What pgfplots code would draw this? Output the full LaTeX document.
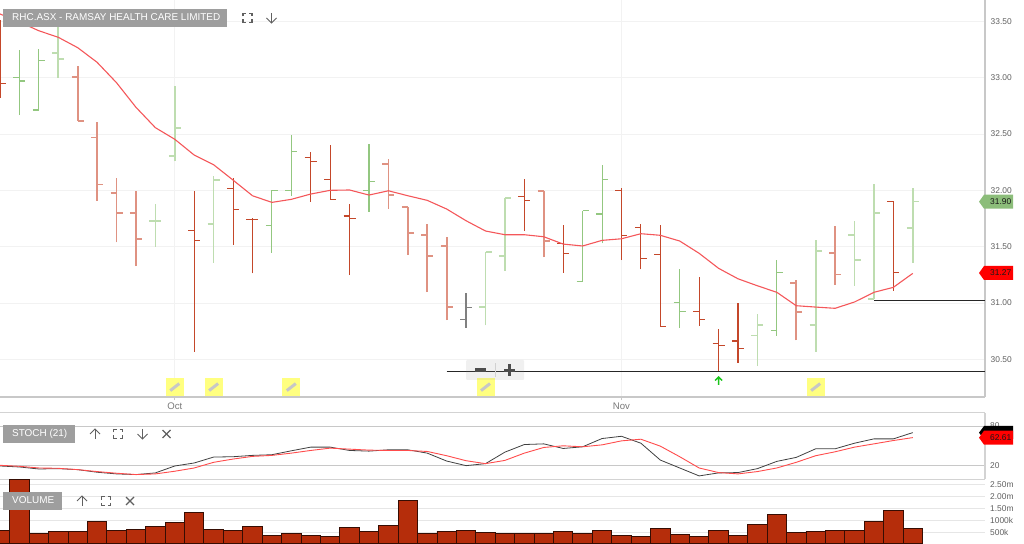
\documentclass[border=0pt]{standalone}
\usepackage{fontspec}
\setmainfont{Liberation Sans}
\usepackage{pgfplots}
\usepackage{pgfplotstable}
\pgfplotsset{compat=1.18}
\definecolor{rd}{HTML}{C4472A}
\definecolor{rl}{HTML}{DF9282}
\definecolor{gd}{HTML}{93C780}
\definecolor{gl}{HTML}{BEDDB0}
\definecolor{bk}{HTML}{808080}
\definecolor{lbl}{HTML}{9E9E9E}
\definecolor{txt}{HTML}{606060}
\definecolor{bar}{HTML}{B52D0B}
\definecolor{ma}{HTML}{F4575A}
\definecolor{ax}{HTML}{C8C8C8}
\definecolor{grd}{HTML}{F2F2F2}
\definecolor{yel}{HTML}{FFFF80}

\pgfplotstableread{
i o h l c
0 33.4 33.511 32.817 32.952
10 31.641 31.994 30.568 31.553
12 32.012 32.106 31.515 31.831
13 31.743 31.751 31.263 31.743
16 32.293 32.343 31.899 32.26
17 32.1 32.402 31.92 31.92
18 31.772 31.878 31.248 31.751
27 31.941 32.103 31.639 31.911
29 31.53 31.689 31.269 31.441
32 32.0 32.018 31.381 31.601
33 31.668 31.698 31.299 31.393
34 31.432 31.689 30.79 30.79
36 30.923 31.228 30.798 30.852
37 30.642 30.772 30.39 30.621
38 30.663 31.002 30.47 30.6
46 31.902 31.902 31.109 31.269
}\redDark
\pgfplotstableread{
i o h l c
4 33.003 33.103 32.618 32.618
5 32.47 32.609 31.908 32.053
6 31.979 32.106 31.539 31.801
7 31.801 31.994 31.328 31.568
20 32.231 32.275 31.837 31.958
21 31.849 31.849 31.428 31.621
22 31.601 31.701 31.097 31.42
23 31.503 31.583 30.849 30.962
28 31.994 31.994 31.408 31.55
41 31.18 31.201 30.669 30.923
43 31.441 31.683 31.16 31.254
}\redLight
\pgfplotstableread{
i o h l c
1 33.003 33.245 32.668 32.97
2 32.713 33.251 32.713 33.154
14 31.692 32.0 31.446 32.0
15 32.0 32.491 31.952 32.343
19 32.0 32.411 31.81 32.08
30 31.189 31.819 31.189 31.819
31 31.79 32.227 31.53 32.1
35 31.002 31.304 30.781 30.923
40 30.754 31.384 30.71 31.269
}\greenDark
\pgfplotstableread{
i o h l c
3 33.221 33.458 32.997 33.163
8 31.73 31.876 31.5 31.73
9 32.304 32.926 32.26 32.55
11 31.701 32.13 31.357 32.091
25 30.962 31.45 30.802 31.45
26 31.42 31.932 31.286 31.932
39 30.713 30.902 30.441 30.802
42 30.802 31.556 30.568 31.464
44 31.601 31.73 31.153 31.384
45 31.033 32.056 31.033 31.801
47 31.663 32.018 31.357 31.902
}\greenLight
\pgfplotstableread{
i o h l c
24 30.852 31.091 30.781 30.962
}\grayBars
\pgfplotstableread{
i ma k d v
0 33.565 20 21 583
1 33.494 18.5 19.5 2720
2 33.416 15.5 17 444
3 33.358 16 16.5 528
4 33.266 14.5 14.5 528
5 33.136 10.6 11.6 958
6 32.955 8.1 9.1 583
7 32.737 7.1 7.1 611
8 32.556 9.6 8.1 722
9 32.453 20 12.1 903
10 32.313 24.5 17 1320
11 32.227 33.4 25.5 611
12 32.091 33.9 30.4 556
13 31.952 35.9 34.4 722
14 31.893 36.9 35.9 375
15 31.92 42.8 39.3 444
16 31.967 48.3 43.3 375
17 32.0 48.3 46.8 333
18 32.003 43.3 45.3 694
19 31.958 42.3 43.8 528
20 31.996 44.3 43.3 792
21 31.952 44.3 43.3 1820
22 31.911 39.3 41.8 444
23 31.834 27.4 35.4 528
24 31.73 20.5 27.9 556
25 31.639 23.5 23.5 500
26 31.606 40.8 28.4 444
27 31.606 52.2 39.3 444
28 31.588 53.2 47.8 444
29 31.523 46.3 50.3 528
30 31.506 48.8 48.8 444
31 31.556 61.2 51.7 583
32 31.57 64.6 57.7 375
33 31.615 54.2 60.2 306
34 31.601 28.9 49.8 653
35 31.55 17 33.9 403
36 31.441 5.1 17 306
37 31.308 9.6 10.1 583
38 31.215 10.1 8.1 375
39 31.153 16 11.6 820
40 31.095 26.9 17 1236
41 30.976 32.9 25.5 486
42 30.964 45.8 35.4 528
43 30.953 45.8 41.3 556
44 31.009 54.2 48.3 583
45 31.095 60.7 53.2 958
46 31.139 60.7 58.2 1417
47 31.263 70.1 62.61 653
}\series

\pgfdeclareplotmark{pencil}{%
  \pgfsetlinewidth{3pt}\pgfsetbuttcap
  \pgfpathmoveto{\pgfpoint{-4.5pt}{-3.5pt}}\pgfpathlineto{\pgfpoint{4.5pt}{3.5pt}}\pgfusepathqstroke}
\pgfdeclareplotmark{uparrow}{%
  \pgfsetlinewidth{1.4pt}
  \pgfpathmoveto{\pgfpoint{0pt}{-4pt}}\pgfpathlineto{\pgfpoint{0pt}{4pt}}
  \pgfpathmoveto{\pgfpoint{-3.5pt}{0.5pt}}\pgfpathlineto{\pgfpoint{0pt}{4pt}}\pgfpathlineto{\pgfpoint{3.5pt}{0.5pt}}\pgfusepathqstroke}

\newcommand{\ohlc}[3]{%
  \pgfplotstablegetrowsof{#1}%
  \pgfmathtruncatemacro{\lastrow}{\pgfplotsretval-1}%
  \pgfplotsforeachungrouped \r in {0,...,\lastrow}{%
    \pgfplotstablegetelem{\r}{i}\of{#1}\let\vI\pgfplotsretval
    \pgfplotstablegetelem{\r}{o}\of{#1}\let\vO\pgfplotsretval
    \pgfplotstablegetelem{\r}{h}\of{#1}\let\vH\pgfplotsretval
    \pgfplotstablegetelem{\r}{l}\of{#1}\let\vL\pgfplotsretval
    \pgfplotstablegetelem{\r}{c}\of{#1}\let\vC\pgfplotsretval
    \pgfmathsetmacro{\xL}{\vI-0.31}%
    \pgfmathsetmacro{\xR}{\vI+0.31}%
    \edef\doplot{%
      \noexpand\addplot[#2, line width=#3, no marks, forget plot] coordinates {(\vI,\vL)(\vI,\vH)};
      \noexpand\addplot[#2, line width=#3, no marks, forget plot] coordinates {(\xL,\vO)(\vI,\vO)};
      \noexpand\addplot[#2, line width=#3, no marks, forget plot] coordinates {(\vI,\vC)(\xR,\vC)};
    }\doplot
  }%
}
\newcommand{\fsicon}[2]{\begin{scope}[shift={(#1,#2)}, draw=txt, line width=1.1pt]
  \draw (-4.5,-1.5)--(-4.5,-4.5)--(-1.5,-4.5);
  \draw (1.5,-4.5)--(4.5,-4.5)--(4.5,-1.5);
  \draw (4.5,1.5)--(4.5,4.5)--(1.5,4.5);
  \draw (-1.5,4.5)--(-4.5,4.5)--(-4.5,1.5);
\end{scope}}
\newcommand{\dnicon}[2]{\begin{scope}[shift={(#1,#2)}, draw=txt, line width=0.9pt]
  \draw (0,-5)--(0,5); \draw (-5,0)--(0,5)--(5,0);
\end{scope}}
\newcommand{\upicon}[2]{\begin{scope}[shift={(#1,#2)}, draw=txt, line width=0.9pt]
  \draw (0,-5)--(0,5); \draw (-5,0)--(0,-5)--(5,0);
\end{scope}}
\newcommand{\xicon}[2]{\begin{scope}[shift={(#1,#2)}, draw=txt, line width=1.2pt]
  \draw (-4,-4)--(4,4); \draw (-4,4)--(4,-4);
\end{scope}}
\newcommand{\pilltag}[3]{%
  \fill[lbl] (3.3,#1) rectangle (#2,#1+18);
  \node[anchor=west, inner sep=0pt, text=white] at (12,#1+9) {\fontsize{9.95}{12}\selectfont\strut #3};
}
\newcommand{\pricetag}[3]{%
  \fill[#2] (979,#1) -- (984,#1-7) -- (1013,#1-7) -- (1013,#1+7) -- (984,#1+7) -- cycle;
  \node[anchor=west, inner sep=0pt, text=black!90] at (990,#1) {\fontsize{8.4}{10}\selectfont #3};
}

\begin{document}
\begin{tikzpicture}[x=1pt,y=1pt]
\path[use as bounding box] (0,0) rectangle (1024,543);

% main price panel
\begin{axis}[
  at={(0pt,146pt)}, anchor=south west, width=985pt, height=397pt, scale only axis,
  xmin=0, xmax=50.72, ymin=30.166, ymax=33.689,
  axis x line*=bottom, axis y line*=right,
  axis line style={-, draw=ax, line width=1.1pt},
  xtick={9,32}, xticklabels={Oct,Nov},
  ytick={30.5,31,31.5,32,32.5,33,33.5},
  yticklabels={30.50,31.00,31.50,32.00,32.50,33.00,33.50},
  grid=major, grid style={draw=grd, line width=0.8pt},
  tick align=outside, major tick length=3.5pt,
  xtick style={draw=ax, line width=0.7pt}, ytick style={draw=none},
  yticklabel style={font=\fontsize{8.4}{10}\selectfont, text=txt, inner sep=0pt, anchor=west, xshift=2pt},
  xticklabel style={font=\fontsize{9.6}{12}\selectfont, text=txt!85!white, inner sep=0pt, yshift=-2.5pt},
  xtick pos=bottom,
  axis on top=false,
]
\ohlc{\redDark}{rd}{1.05pt}
\ohlc{\redLight}{rl}{1.7pt}
\ohlc{\greenDark}{gd}{1.05pt}
\ohlc{\greenLight}{gl}{1.7pt}
\ohlc{\grayBars}{bk}{1.5pt}
\addplot[ma, line width=1.1pt, forget plot] table[x=i, y=ma] {\series};
\addplot[black!85, line width=1pt, forget plot] coordinates {(23,30.39)(50.72,30.39)};
\addplot[black!85, line width=1pt, forget plot] coordinates {(45,31.018)(50.72,31.018)};
\addplot[only marks, mark=square*, mark size=8.5pt, mark options={draw=yel, fill=yel, line width=0pt}, forget plot]
  coordinates {(9,30.254)(11,30.254)(15,30.254)(25,30.254)(42,30.254)};
\addplot[only marks, mark=pencil, mark options={draw=black!22}, forget plot]
  coordinates {(9,30.254)(11,30.254)(15,30.254)(25,30.254)(42,30.254)};
\addplot[only marks, mark=uparrow, mark options={draw=green!75!black!90!white}, forget plot]
  coordinates {(37,30.308)};
\end{axis}

% stochastic panel
\begin{axis}[
  at={(0pt,63.7pt)}, anchor=south west, width=985pt, height=66.6pt, scale only axis,
  xmin=0, xmax=50.72, ymin=0, ymax=100,
  axis x line=box, axis y line*=right,
  axis line style={-, draw=ax!80!white, line width=1.1pt},
  xtick=\empty, ytick={20,80}, yticklabels={20,80},
  ymajorgrids, grid style={draw=ax, line width=1pt},
  major tick length=0pt, ytick style={draw=none},
  yticklabel style={font=\fontsize{8.4}{10}\selectfont, text=txt, inner sep=0pt, anchor=west, xshift=5pt},
]
\addplot[black!75, line width=0.8pt] table[x=i, y=k] {\series};
\addplot[red!70!white, line width=0.9pt] table[x=i, y=d] {\series};
\end{axis}

% volume panel
\begin{axis}[
  at={(0pt,0pt)}, anchor=south west, width=985pt, height=63.7pt, scale only axis,
  xmin=0, xmax=50.72, ymin=41.67, ymax=2708,
  axis line style={draw=none},
  xtick=\empty, ytick={500,1000,1500,2000,2500},
  yticklabels={500k,1000k,1.50m,2.00m,2.50m},
  yticklabel pos=right,
  ymajorgrids, grid style={draw=grd!95!black, line width=0.8pt},
  major tick length=0pt, ytick style={draw=none},
  yticklabel style={font=\fontsize{8.4}{10}\selectfont, text=txt, inner sep=0pt, anchor=west, xshift=5pt},
]
\addplot[ybar, bar width=19.42pt, fill=bar, draw=black!70!bar, line width=0.9pt] table[x=i, y=v] {\series};
\end{axis}

% overlay in image pixels
\begin{scope}[x=1pt, y=-1pt, yshift=543pt]
  \pilltag{9}{227}{RHC.ASX - RAMSAY HEALTH CARE LIMITED}
  \fsicon{247.5}{18}
  \dnicon{271.5}{18}
  \pilltag{425}{74.5}{STOCH (21)}
  \upicon{95}{434} \fsicon{118}{434} \dnicon{142.5}{434} \xicon{166.5}{434}
  \pilltag{492}{62}{VOLUME}
  \upicon{82}{501} \fsicon{106}{501} \xicon{130}{501}
  % zoom control
  \fill[black!45, fill opacity=0.13, rounded corners=1pt] (466,360) rectangle (524,380);
  \draw[black!18, line width=0.6pt] (495.7,363) -- (495.7,377);
  \fill[black!70] (475,368.5) rectangle (486,372.5);
  \fill[black!70] (504,369) rectangle (514.5,372);
  \fill[black!70] (507.7,364.5) rectangle (510.7,376);
  % price tags
  \pricetag{201.7}{gd!95!black}{31.90}
  \pricetag{273}{red}{31.27}
  \fill[black] (979,432.7) -- (984,426) -- (1013,426) -- (1013,439) -- (984,439) -- cycle;
  \pricetag{437.7}{red}{62.61}
\end{scope}
\end{tikzpicture}
\end{document}
